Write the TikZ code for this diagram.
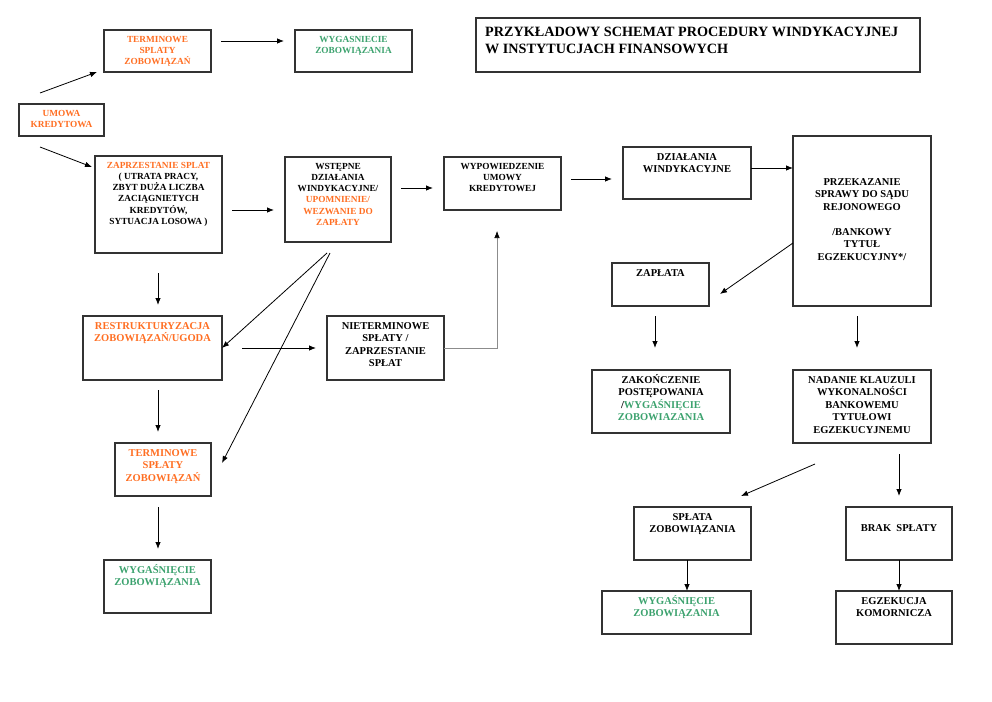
\documentclass[tikz,border=0pt]{standalone}
\usepackage{fontspec}
\setmainfont{Liberation Serif}
\usetikzlibrary{arrows.meta}
\definecolor{pomar}{HTML}{FF6E22}
\definecolor{ziel}{HTML}{3CA26E}
\tikzset{
	kadr/.style={draw=black!80, line width=1.2pt, inner sep=0pt, outer sep=0pt, anchor=north west},
	napis/.style={anchor=north, inner sep=0pt, align=center, font=\bfseries\fontsize{10.5}{12.5}\selectfont},
	drobny/.style={font=\bfseries\fontsize{9.3}{11.2}\selectfont},
	strz/.style={-{Latex[length=7pt,width=5.5pt]}, line width=0.8pt},
}
\newcommand{\blok}[7][] % text options, name, x, y, width, height (in px), text
{
	% frame
	\node[kadr, minimum width=#5pt, minimum height=#6pt] (#2) at (#3,#4) {};
	% text
	\node[napis, #1] at ([yshift=-6pt]#2.north) {#7};
}

\begin{document}
\begin{tikzpicture}[x=1pt, y=-1pt]
	% page 992 x 701 px
	\useasboundingbox (0,0) rectangle (992,701);
	% title
	\node[kadr, minimum width=444pt, minimum height=54pt] (tytul) at (476,18) {};
	\node[anchor=north west, inner sep=0pt, align=left, font=\bfseries\fontsize{14.2}{16.5}\selectfont] at ([xshift=9pt,yshift=-9pt]tytul.north west) {PRZYKŁADOWY SCHEMAT PROCEDURY WINDYKACYJNEJ\\W INSTYTUCJACH FINANSOWYCH};
	% left column
	\blok[drobny, text=pomar]{umowa}{19}{104}{85}{32}{UMOWA\\KREDYTOWA}
	\blok[drobny, text=pomar]{term1}{104}{30}{107}{42}{TERMINOWE\\SPLATY\\ZOBOWIĄZAŃ}
	\blok[drobny, text=ziel]{wyg1}{295}{30}{117}{42}{WYGASNIECIE\\ZOBOWIĄZANIA}
	\blok[drobny]{zap}{95}{156}{127}{97}{\textcolor{pomar}{ZAPRZESTANIE SPLAT}\\( UTRATA PRACY,\\ZBYT DUŻA LICZBA\\ZACIĄGNIETYCH\\KREDYTÓW,\\SYTUACJA LOSOWA )}
	\blok[text=pomar]{restr}{83}{316}{139}{64}{RESTRUKTURYZACJA\\ZOBOWIĄZAŃ/UGODA}
	\blok[text=pomar]{term2}{115}{443}{96}{53}{TERMINOWE\\SPŁATY\\ZOBOWIĄZAŃ}
	\blok[text=ziel, yshift=2pt]{wyg2}{104}{560}{107}{53}{WYGAŚNIĘCIE\\ZOBOWIĄZANIA}
	% middle
	\blok[drobny]{wst}{285}{157}{106}{85}{WSTĘPNE\\DZIAŁANIA\\WINDYKACYJNE/\\\textcolor{pomar}{UPOMNIENIE/}\\\textcolor{pomar}{WEZWANIE DO}\\\textcolor{pomar}{ZAPŁATY}}
	\blok[drobny]{wyp}{444}{157}{117}{53}{WYPOWIEDZENIE\\UMOWY\\KREDYTOWEJ}
	\blok{niet}{327}{316}{117}{64}{NIETERMINOWE\\SPŁATY /\\ZAPRZESTANIE\\SPŁAT}
	% right part
	\blok{dzial}{623}{147}{128}{52}{DZIAŁANIA\\WINDYKACYJNE}
	\blok[yshift=-36pt]{przek}{793}{136}{138}{170}{PRZEKAZANIE\\SPRAWY DO SĄDU\\REJONOWEGO\\[12.5pt]/BANKOWY\\TYTUŁ\\EGZEKUCYJNY*/}
	\blok{zaplata}{612}{263}{97}{43}{ZAPŁATA}
	\blok[yshift=2pt]{zak}{592}{370}{138}{63}{ZAKOŃCZENIE\\POSTĘPOWANIA\\/\textcolor{ziel}{WYGAŚNIĘCIE}\\\textcolor{ziel}{ZOBOWIAZANIA}}
	\blok{nad}{793}{370}{138}{73}{NADANIE KLAUZULI\\WYKONALNOŚCI\\BANKOWEMU\\TYTUŁOWI\\EGZEKUCYJNEMU}
	\blok{splata}{634}{507}{117}{53}{SPŁATA\\ZOBOWIĄZANIA}
	\blok[yshift=-11pt]{brak}{846}{507}{106}{53}{BRAK\ \ SPŁATY}
	\blok[text=ziel, yshift=2pt]{wyg3}{602}{591}{149}{43}{WYGAŚNIĘCIE\\ZOBOWIĄZANIA}
	\blok{egz}{836}{591}{116}{53}{EGZEKUCJA\\KOMORNICZA}

	% arrows - left
	\draw[strz] ([xshift=21pt,yshift=11pt]umowa.north west) -- ([xshift=-7pt]term1.south west);
	\draw[strz] ([xshift=21pt,yshift=-11pt]umowa.south west) -- ([xshift=-3pt,yshift=-11pt]zap.north west);
	\draw[strz, shorten <=10pt, shorten >=11pt] ([yshift=10pt]term1.east) -- ([yshift=10pt]wyg1.west);
	\draw[strz, shorten <=10pt, shorten >=11pt] ([yshift=-5.5pt]zap.east) -- ([yshift=-10.5pt]wst.west);
	\draw[strz] ([xshift=-0.5pt,yshift=-20pt]zap.south) -- ([xshift=5.5pt,yshift=11pt]restr.north);
	\draw[strz] ([xshift=-11pt,yshift=-11pt]wst.south) -- (restr.east);
	\draw[strz] ([xshift=-8pt,yshift=-11pt]wst.south) -- ([xshift=11pt,yshift=6.5pt]term2.east);
	\draw[strz, shorten <=20pt, shorten >=11pt] (restr.east) -- (niet.west);
	\draw[strz] ([xshift=5.5pt,yshift=-10pt]restr.south) -- ([xshift=-5pt,yshift=11pt]term2.north);
	\draw[strz] ([xshift=-5pt,yshift=-11pt]term2.south) -- ([xshift=0.5pt,yshift=11pt]wyg2.north);
	% arrows - middle
	\draw[strz, shorten <=10pt, shorten >=11pt] ([yshift=11.5pt]wst.east) -- ([yshift=-4.5pt]wyp.west);
	\draw[strz, draw=black!45, line width=0.6pt, -{Latex[length=7pt,width=5.5pt,black]}] (niet.east) -| ([xshift=-5.5pt,yshift=-21pt]wyp.south);
	\draw[strz, shorten <=10pt, shorten >=11pt] ([yshift=4.5pt]wyp.east) -- ([yshift=-6pt]dzial.west);
	% arrows - right
	\draw[strz] ([yshift=5pt]dzial.east) -- ([yshift=53pt]przek.west);
	\draw[strz] ([yshift=-22pt]przek.west) -- ([xshift=11pt,yshift=-9.5pt]zaplata.east);
	\draw[strz] ([xshift=-5.5pt,yshift=-10pt]zaplata.south) -- ([xshift=-6pt,yshift=22pt]zak.north);
	\draw[strz] ([xshift=-5pt,yshift=-10pt]przek.south) -- ([xshift=-5pt,yshift=22pt]nad.north);
	\draw[strz] ([xshift=-47pt,yshift=-21pt]nad.south) -- ([xshift=-10pt,yshift=11pt]splata.north east);
	\draw[strz] ([xshift=37pt,yshift=-11pt]nad.south) -- ([yshift=11pt]brak.north);
	\draw[strz] ([xshift=-5.5pt]splata.south) -- ([xshift=10.5pt]wyg3.north);
	\draw[strz] (brak.south) -- ([xshift=5pt]egz.north);
\end{tikzpicture}
\end{document}
